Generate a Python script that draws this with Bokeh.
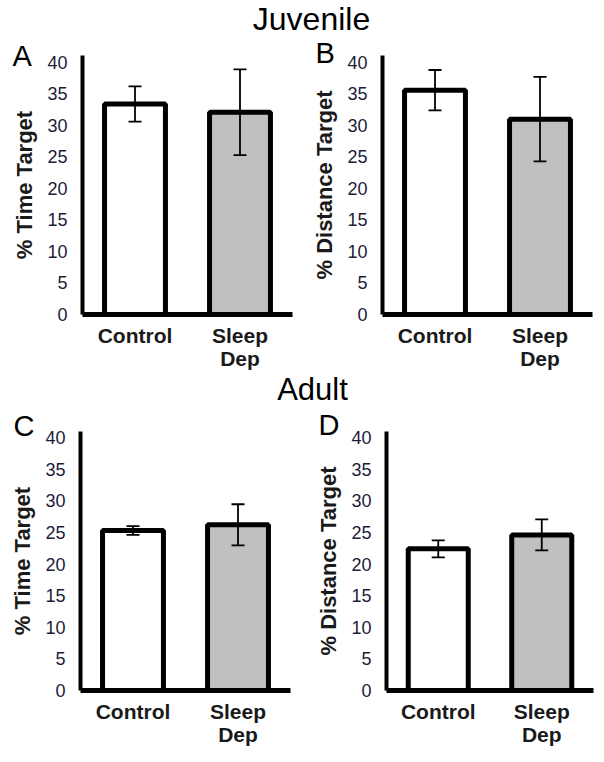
from bokeh.plotting import figure
from bokeh.layouts import column, row
from bokeh.models import (ColumnDataSource, Whisker, TeeHead, FixedTicker, Label, Range1d,
                          FactorRange, CategoricalAxis, CustomJSTickFormatter)
from bokeh.embed import file_html
from bokeh.resources import INLINE

# ---- data ----
groups = ["Control", "Sleep Dep"]
bar_colors = ["#ffffff", "#c0c0c0"]
y_ticks = [0, 5, 10, 15, 20, 25, 30, 35, 40]

juv_time_mean = [33.4, 32.1]
juv_time_err = [2.8, 6.8]
juv_dist_mean = [35.6, 31.0]
juv_dist_err = [3.2, 6.7]
adult_time_mean = [25.3, 26.2]
adult_time_err = [0.7, 3.25]
adult_dist_mean = [22.4, 24.6]
adult_dist_err = [1.35, 2.45]

section_titles = ["Juvenile", "Adult"]
panel_letters = ["A", "B", "C", "D"]
y_labels = ["% Time Target", "% Distance Target", "% Time Target", "% Distance Target"]

FONT = "Liberation Sans"

# category names are wrapped onto two lines (first word / rest)
FIRST_LINE = CustomJSTickFormatter(code="return tick.split(' ')[0];")
SECOND_LINE = CustomJSTickFormatter(
    code="const parts = tick.split(' '); return parts.length > 1 ? parts.slice(1).join(' ') : '';")


def make_panel(letter, ylabel, means, errs, width, height, bl, br, bt, bb, ymax,
               l_offset, l_standoff):
    p = figure(x_range=FactorRange(*groups, range_padding=0), y_range=Range1d(0, ymax),
               width=width, height=height, toolbar_location=None, output_backend="svg",
               min_border_left=bl, min_border_right=br, min_border_top=bt, min_border_bottom=bb)
    p.outline_line_color = None
    p.grid.visible = False
    p.background_fill_color = "white"
    p.border_fill_color = "white"

    # panel letter as the plot title, pulled down next to the axis top
    p.title.text = letter
    p.title.align = "left"
    p.title.vertical_align = "bottom"
    p.title.offset = l_offset
    p.title.standoff = l_standoff
    p.title.text_font = FONT
    p.title.text_font_size = "29px"
    p.title.text_font_style = "normal"
    p.title.text_color = "black"

    src = ColumnDataSource(dict(
        cat=groups, val=means,
        upper=[m + e for m, e in zip(means, errs)],
        lower=[m - e for m, e in zip(means, errs)],
        color=bar_colors,
    ))
    p.vbar(x="cat", top="val", bottom=0, width=0.58, source=src,
           fill_color="color", line_color="black", line_width=5)
    w = Whisker(source=src, base="cat", upper="upper", lower="lower", dimension="height",
                line_color="black", line_width=1.8, level="overlay",
                upper_head=TeeHead(size=13, line_width=1.8, line_color="black"),
                lower_head=TeeHead(size=13, line_width=1.8, line_color="black"))
    p.add_layout(w)

    ya = p.yaxis[0]
    ya.ticker = FixedTicker(ticks=y_ticks)
    ya.major_tick_line_color = None
    ya.minor_tick_line_color = None
    ya.major_tick_out = 0
    ya.major_tick_in = 0
    ya.axis_line_width = 4
    ya.axis_line_color = "black"
    ya.major_label_text_font = FONT
    ya.major_label_text_font_size = "18px"
    ya.major_label_text_color = "#1c1c3a"
    ya.major_label_standoff = 15
    ya.axis_label = ylabel
    ya.axis_label_text_font = FONT
    ya.axis_label_text_font_size = "22px"
    ya.axis_label_text_font_style = "bold"
    ya.axis_label_text_color = "#1a1a1a"
    ya.axis_label_standoff = 7

    xa = p.xaxis[0]
    xa.major_tick_line_color = None
    xa.minor_tick_line_color = None
    xa.major_tick_out = 0
    xa.major_tick_in = 0
    xa.axis_line_width = 5
    xa.axis_line_color = "black"
    xa.formatter = FIRST_LINE
    xa.major_label_text_font = FONT
    xa.major_label_text_font_size = "21px"
    xa.major_label_text_font_style = "bold"
    xa.major_label_text_color = "#1a1a1a"
    xa.major_label_standoff = 9

    xa2 = CategoricalAxis(formatter=SECOND_LINE)
    xa2.axis_line_color = None
    xa2.major_tick_line_color = None
    xa2.minor_tick_line_color = None
    xa2.major_tick_out = 0
    xa2.major_tick_in = 0
    xa2.major_label_text_font = FONT
    xa2.major_label_text_font_size = "21px"
    xa2.major_label_text_font_style = "bold"
    xa2.major_label_text_color = "#1a1a1a"
    xa2.major_label_standoff = -3
    p.add_layout(xa2, "below")
    return p


def make_title(text, width, height, cx, cy, size):
    t = figure(width=width, height=height, x_range=Range1d(0, 1), y_range=Range1d(0, 1),
               toolbar_location=None, output_backend="svg", min_border=0)
    t.axis.visible = False
    t.grid.visible = False
    t.outline_line_color = None
    t.add_layout(Label(x=cx, y=cy, x_units="canvas", y_units="canvas", text=text,
                       text_font=FONT, text_font_size=size, text_color="black",
                       text_align="center", text_baseline="middle"))
    return t


title1 = make_title(section_titles[0], 596, 36, 311, 18, "32px")
pA = make_panel(panel_letters[0], y_labels[0], juv_time_mean, juv_time_err,
                300, 336, 82, 8, 19, 57, 41.1, -70, -32.8)
pB = make_panel(panel_letters[1], y_labels[1], juv_dist_mean, juv_dist_err,
                296, 336, 82, 4, 19, 57, 41.1, -67, -26.8)
title2 = make_title(section_titles[1], 596, 34, 312, 17, "31px")
pC = make_panel(panel_letters[2], y_labels[2], adult_time_mean, adult_time_err,
                300, 348, 80, 10, 25, 64, 40.95, -67, -21)
pD = make_panel(panel_letters[3], y_labels[3], adult_dist_mean, adult_dist_err,
                296, 348, 86, 3, 25, 64, 40.95, -68, -18)

layout = column(title1, row(pA, pB), title2, row(pC, pD))

open("out.html", "w").write(file_html(layout, INLINE))
